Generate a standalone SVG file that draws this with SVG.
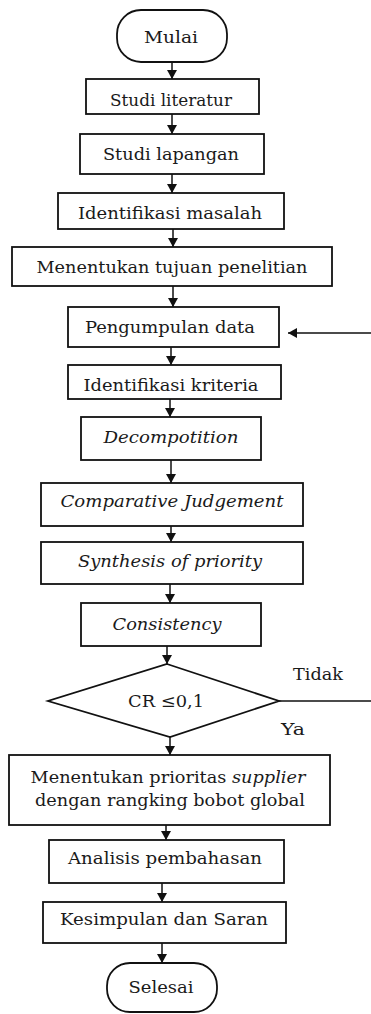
<svg xmlns="http://www.w3.org/2000/svg" width="371" height="1014" viewBox="0 0 371 1014">
<style>
.b{fill:#fff;stroke:#111;stroke-width:1.8}
.t{font-family:"DejaVu Serif","Liberation Serif",serif;font-size:17px;fill:#1a1a1a;text-anchor:middle}
.i{font-style:italic}
.c{fill:none;stroke:#111;stroke-width:1.5}
</style>
<defs>
<marker id="ah" markerUnits="userSpaceOnUse" markerWidth="11" markerHeight="11" refX="9" refY="5" orient="auto">
<path d="M0,0 L9,5 L0,10 z" fill="#111"/>
</marker>
</defs>
<rect width="371" height="1014" fill="#fff"/>
<g id="connectors">
<path class="c" d="M172,62 V79" marker-end="url(#ah)"/>
<path class="c" d="M172,114 V134" marker-end="url(#ah)"/>
<path class="c" d="M172,174 V193" marker-end="url(#ah)"/>
<path class="c" d="M173,229 V247" marker-end="url(#ah)"/>
<path class="c" d="M173,286 V307" marker-end="url(#ah)"/>
<path class="c" d="M171,347 V365" marker-end="url(#ah)"/>
<path class="c" d="M170,399 V417" marker-end="url(#ah)"/>
<path class="c" d="M171,460 V483" marker-end="url(#ah)"/>
<path class="c" d="M171,526 V542" marker-end="url(#ah)"/>
<path class="c" d="M170,584 V603" marker-end="url(#ah)"/>
<path class="c" d="M167,646 V664" marker-end="url(#ah)"/>
<path class="c" d="M170,737 V755" marker-end="url(#ah)"/>
<path class="c" d="M166,825 V840" marker-end="url(#ah)"/>
<path class="c" d="M162,883 V902" marker-end="url(#ah)"/>
<path class="c" d="M162,943 V963" marker-end="url(#ah)"/>
<path class="c" d="M279,701 H374 V333 H288" marker-end="url(#ah)"/>
<text class="t" x="318" y="680" textLength="50" lengthAdjust="spacingAndGlyphs">Tidak</text>
<text class="t" x="293" y="735" textLength="24" lengthAdjust="spacingAndGlyphs">Ya</text>
</g>
<g id="mulai"><rect class="b" x="117" y="10" width="110" height="52" rx="24"/><text class="t" x="171" y="43" textLength="54" lengthAdjust="spacingAndGlyphs">Mulai</text></g>
<g id="studi-literatur"><rect class="b" x="86" y="79" width="173" height="35"/><text class="t" x="171" y="106" textLength="122" lengthAdjust="spacingAndGlyphs">Studi literatur</text></g>
<g id="studi-lapangan"><rect class="b" x="80" y="134" width="184" height="40"/><text class="t" x="171" y="160" textLength="136" lengthAdjust="spacingAndGlyphs">Studi lapangan</text></g>
<g id="identifikasi-masalah"><rect class="b" x="58" y="193" width="226" height="36"/><text class="t" x="170" y="219" textLength="184" lengthAdjust="spacingAndGlyphs">Identifikasi masalah</text></g>
<g id="tujuan"><rect class="b" x="12" y="247" width="320" height="39"/><text class="t" x="172" y="273" textLength="271" lengthAdjust="spacingAndGlyphs">Menentukan tujuan penelitian</text></g>
<g id="pengumpulan"><rect class="b" x="68" y="307" width="211" height="40"/><text class="t" x="170" y="333" textLength="170" lengthAdjust="spacingAndGlyphs">Pengumpulan data</text></g>
<g id="identifikasi-kriteria"><rect class="b" x="68" y="365" width="213" height="34"/><text class="t" x="171" y="391" textLength="175" lengthAdjust="spacingAndGlyphs">Identifikasi kriteria</text></g>
<g id="decompotition"><rect class="b" x="81" y="417" width="180" height="43"/><text class="t i" x="171" y="443" textLength="135" lengthAdjust="spacingAndGlyphs">Decompotition</text></g>
<g id="comparative"><rect class="b" x="41" y="483" width="262" height="43"/><text class="t i" x="172" y="507" textLength="223" lengthAdjust="spacingAndGlyphs">Comparative Judgement</text></g>
<g id="synthesis"><rect class="b" x="41" y="542" width="262" height="42"/><text class="t i" x="170" y="567" textLength="184" lengthAdjust="spacingAndGlyphs">Synthesis of priority</text></g>
<g id="consistency"><rect class="b" x="81" y="603" width="180" height="43"/><text class="t i" x="167" y="630" textLength="109" lengthAdjust="spacingAndGlyphs">Consistency</text></g>
<g id="cr"><polygon class="b" points="167,664 279,701 170,737 48,701"/><text class="t" x="166" y="707" textLength="76" lengthAdjust="spacingAndGlyphs">CR ≤0,1</text></g>
<g id="prioritas"><rect class="b" x="9" y="755" width="321" height="70"/><text class="t" x="168" y="783" textLength="275" lengthAdjust="spacingAndGlyphs">Menentukan prioritas <tspan class="i">supplier</tspan></text><text class="t" x="170" y="806" textLength="270" lengthAdjust="spacingAndGlyphs">dengan rangking bobot global</text></g>
<g id="analisis"><rect class="b" x="49" y="840" width="235" height="43"/><text class="t" x="165" y="864" textLength="194" lengthAdjust="spacingAndGlyphs">Analisis pembahasan</text></g>
<g id="kesimpulan"><rect class="b" x="43" y="902" width="243" height="41"/><text class="t" x="164" y="925" textLength="208" lengthAdjust="spacingAndGlyphs">Kesimpulan dan Saran</text></g>
<g id="selesai"><rect class="b" x="107" y="963" width="110" height="49" rx="23"/><text class="t" x="161" y="993" textLength="65" lengthAdjust="spacingAndGlyphs">Selesai</text></g>
</svg>
